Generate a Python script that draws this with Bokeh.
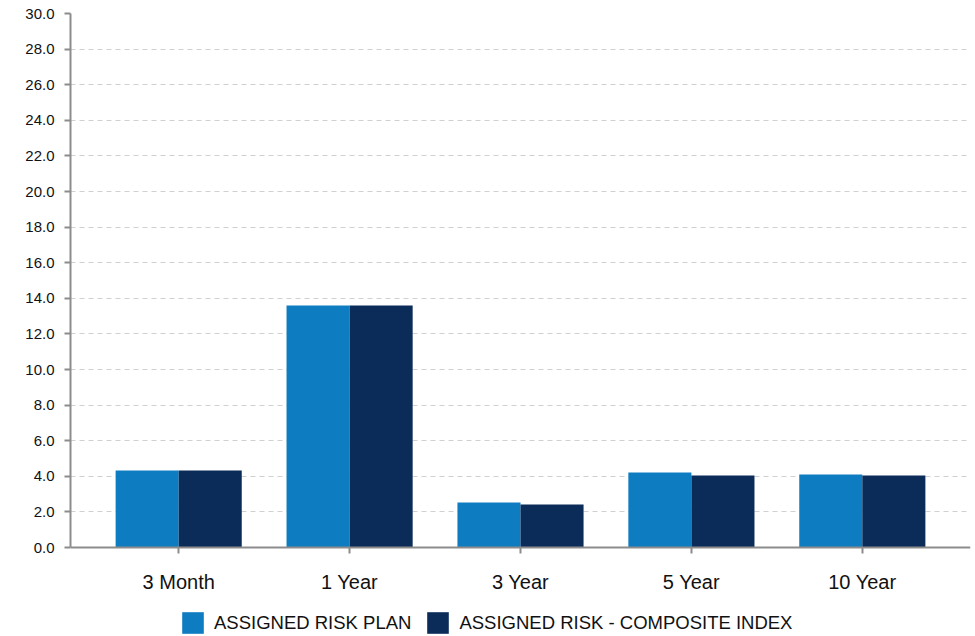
from bokeh.plotting import figure
from bokeh.models import ColumnDataSource, Range1d, FixedTicker, NumeralTickFormatter, Legend, LegendItem
from bokeh.transform import dodge
from bokeh.embed import file_html
from bokeh.resources import INLINE

categories = ["3 Month", "1 Year", "3 Year", "5 Year", "10 Year"]
plan = [4.33, 13.6, 2.53, 4.21, 4.10]
composite = [4.33, 13.6, 2.42, 4.04, 4.04]
series_names = ["ASSIGNED RISK PLAN", "ASSIGNED RISK - COMPOSITE INDEX"]
y_ticks = [0, 2, 4, 6, 8, 10, 12, 14, 16, 18, 20, 22, 24, 26, 28, 30]

LIGHT = "#0E7CC1"
DARK = "#0B2C59"
FONT = "Liberation Sans"

src = ColumnDataSource(dict(x=list(range(len(categories))), plan=plan, comp=composite))

# frame spans the whole lower area; the x axis sits at y=0 inside it
p = figure(width=975, height=636, output_backend="svg", toolbar_location=None,
           x_range=Range1d(-0.633, len(categories) - 1 + 0.633), y_range=Range1d(-5.0, 30))
p.min_border_left = 70
p.min_border_right = 5
p.min_border_top = 13
p.min_border_bottom = 0
p.outline_line_color = None
p.background_fill_color = "white"
p.border_fill_color = "white"

bw = 0.369
r1 = p.vbar(x=dodge("x", -bw / 2), top="plan", bottom=0, width=bw, source=src, fill_color=LIGHT, line_color=None)
r2 = p.vbar(x=dodge("x", bw / 2), top="comp", bottom=0, width=bw, source=src, fill_color=DARK, line_color=None)

# axes
p.xaxis.fixed_location = 0
p.xaxis.ticker = FixedTicker(ticks=list(range(len(categories))))
p.xaxis.major_label_overrides = {i: c for i, c in enumerate(categories)}
p.xaxis.major_label_text_font = FONT
p.xaxis.major_label_text_font_size = "20px"
p.xaxis.major_label_text_color = "#111111"
p.xaxis.major_label_standoff = 17
p.xaxis.major_tick_out = 6
p.xaxis.major_tick_in = 0
p.xaxis.minor_tick_line_color = None
p.xaxis.axis_line_color = "#8c8c8c"
p.xaxis.axis_line_width = 2
p.xaxis.major_tick_line_color = "#8c8c8c"
p.xaxis.major_tick_line_width = 2

p.yaxis.bounds = (0, 30)
p.yaxis.ticker = FixedTicker(ticks=y_ticks)
p.yaxis.formatter = NumeralTickFormatter(format="0.0")
p.yaxis.major_label_text_font = FONT
p.yaxis.major_label_text_font_size = "15px"
p.yaxis.major_label_text_color = "#111111"
p.yaxis.major_label_standoff = 10
p.yaxis.major_tick_out = 6
p.yaxis.major_tick_in = 0
p.yaxis.minor_tick_line_color = None
p.yaxis.axis_line_color = "#8c8c8c"
p.yaxis.axis_line_width = 2
p.yaxis.major_tick_line_color = "#8c8c8c"
p.yaxis.major_tick_line_width = 2

p.xgrid.grid_line_color = None
p.ygrid.grid_line_color = "#d0d0d0"
p.ygrid.grid_line_dash = "5 4"
p.ygrid.grid_line_width = 1

legend = Legend(items=[LegendItem(label=series_names[0], renderers=[r1]),
                       LegendItem(label=series_names[1], renderers=[r2])],
                orientation="horizontal", location=(109, 0))
legend.glyph_width = 27
legend.glyph_height = 27
legend.label_standoff = 8
legend.spacing = 13
legend.padding = 0
legend.margin = 0
legend.border_line_color = None
legend.background_fill_alpha = 0
legend.label_text_font = FONT
legend.label_text_font_size = "18.5px"
legend.label_text_color = "#111111"
legend.label_height = 27
p.add_layout(legend, "center")

open("out.html", "w").write(file_html(p, INLINE))
